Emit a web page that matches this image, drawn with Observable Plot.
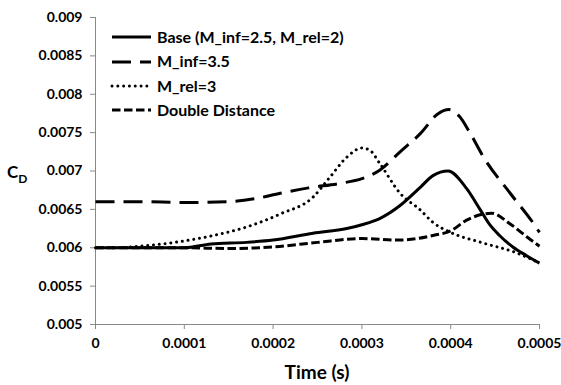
<!DOCTYPE html>
<html><head><meta charset="utf-8">
<script src="https://cdn.jsdelivr.net/npm/d3@7"></script>
<script src="https://cdn.jsdelivr.net/npm/@observablehq/plot@0.6"></script>
<style>
body{margin:0;background:#fff;}
#wrap{position:relative;width:561px;height:385px;font-family:Lato,"Open Sans",sans-serif;font-weight:bold;color:#000;}
.lbl{position:absolute;white-space:nowrap;line-height:1;}
</style></head><body><div id="wrap"></div>
<script>
// ---- data ----
const xTicks = [0, 0.0001, 0.0002, 0.0003, 0.0004, 0.0005];
const xTickLabels = ["0", "0.0001", "0.0002", "0.0003", "0.0004", "0.0005"];
const yTicks = [0.005, 0.0055, 0.006, 0.0065, 0.007, 0.0075, 0.008, 0.0085, 0.009];
const yTickLabels = ["0.005", "0.0055", "0.006", "0.0065", "0.007", "0.0075", "0.008", "0.0085", "0.009"];
const seriesNames = ["Base (M_inf=2.5, M_rel=2)", "M_inf=3.5", "M_rel=3", "Double Distance"];

const baseT = [0, 0.00005, 0.0001, 0.00013, 0.00017, 0.0002, 0.000245, 0.000283, 0.0003, 0.00032, 0.000343, 0.000366, 0.00038, 0.000397, 0.000418, 0.000433, 0.000444, 0.000455, 0.00047, 0.000485, 0.0005];
const baseV = [0.006, 0.006, 0.006, 0.00605, 0.00607, 0.0061, 0.00619, 0.00625, 0.0063, 0.00638, 0.00655, 0.00679, 0.00694, 0.0070, 0.00677, 0.0065, 0.0063, 0.00616, 0.00601, 0.0059, 0.0058];

const minfT = [0, 0.00005, 0.0001, 0.00015, 0.00018, 0.000208, 0.00024, 0.000276, 0.0003, 0.00032, 0.000343, 0.000366, 0.000385, 0.000398, 0.00041, 0.000422, 0.000437, 0.000467, 0.000493, 0.0005];
const minfV = [0.0066, 0.0066, 0.00659, 0.0066, 0.00664, 0.00671, 0.00678, 0.00684, 0.0069, 0.00701, 0.00725, 0.00749, 0.00774, 0.0078, 0.00771, 0.00749, 0.00718, 0.00671, 0.00632, 0.0062];

const mrelT = [0, 0.00002, 0.00006, 0.000095, 0.000133, 0.00017, 0.000208, 0.000245, 0.000264, 0.000283, 0.0003, 0.000309, 0.00032, 0.000343, 0.000366, 0.00038, 0.0004, 0.000437, 0.000475, 0.0005];
const mrelV = [0.006, 0.006, 0.00603, 0.00608, 0.00616, 0.00627, 0.00644, 0.00666, 0.00692, 0.00718, 0.0073, 0.00727, 0.0071, 0.00671, 0.00649, 0.00633, 0.0062, 0.00606, 0.00593, 0.0058];

const ddT = [0, 0.0001, 0.00015, 0.0002, 0.00025, 0.0003, 0.000343, 0.00038, 0.0004, 0.000418, 0.000446, 0.000467, 0.000486, 0.0005];
const ddV = [0.006, 0.006, 0.00599, 0.00601, 0.00607, 0.00612, 0.0061, 0.00616, 0.00622, 0.00636, 0.00645, 0.00631, 0.00614, 0.00602];

// ---- build table ----
const rows = (name, T, V) => T.map((t, i) => ({series: name, t, v: V[i]}));
const data = [
  rows(seriesNames[0], baseT, baseV),
  rows(seriesNames[1], minfT, minfV),
  rows(seriesNames[2], mrelT, mrelV),
  rows(seriesNames[3], ddT, ddV)
];
const styles = [
  {strokeWidth: 3, strokeDasharray: null, strokeLinecap: "butt"},
  {strokeWidth: 3, strokeDasharray: "19,9", strokeLinecap: "butt"},
  {strokeWidth: 3, strokeDasharray: "0.01,5.8", strokeLinecap: "round"},
  {strokeWidth: 3, strokeDasharray: "8.5,3.5", strokeLinecap: "butt"}
];

const axisGray = "#898989";
const chart = Plot.plot({
  width: 561, height: 385,
  marginLeft: 95, marginRight: 22, marginTop: 17, marginBottom: 61,
  style: {fontFamily: "Lato, 'Open Sans', sans-serif", fontSize: "14px", fontWeight: "bold", background: "#fff", color: "#000"},
  x: {domain: [0, 0.0005]},
  y: {domain: [0.005, 0.009]},
  marks: [
    Plot.axisX({ticks: xTicks, tickFormat: d => xTickLabels[xTicks.indexOf(d)], tickSize: 5, tickPadding: 9, stroke: axisGray, fill: "#000", label: null}),
    Plot.axisY({ticks: yTicks, tickFormat: d => yTickLabels[yTicks.indexOf(d)], tickSize: 5, tickPadding: 8, stroke: axisGray, fill: "#000", label: null}),
    Plot.ruleX([0], {stroke: axisGray, strokeWidth: 1}),
    Plot.ruleY([0.005], {stroke: axisGray, strokeWidth: 1}),
    ...data.map((d, i) => Plot.line(d, {x: "t", y: "v", stroke: "#000", curve: "monotone-x", ...styles[i]}))
  ]
});
const wrap = document.getElementById("wrap");
chart.style.position = "absolute"; chart.style.left = "0"; chart.style.top = "0";
wrap.appendChild(chart);

// ---- legend ----
const legendRowsY = [37, 61.5, 86, 110];
seriesNames.forEach((name, i) => {
  const s = styles[i];
  const svgNS = "http://www.w3.org/2000/svg";
  const sv = document.createElementNS(svgNS, "svg");
  sv.setAttribute("width", 44); sv.setAttribute("height", 10);
  sv.style.position = "absolute"; sv.style.left = "110px"; sv.style.top = (legendRowsY[i] - 5) + "px";
  const ln = document.createElementNS(svgNS, "line");
  ln.setAttribute("x1", 2); ln.setAttribute("x2", 41); ln.setAttribute("y1", 5); ln.setAttribute("y2", 5);
  ln.setAttribute("stroke", "#000"); ln.setAttribute("stroke-width", s.strokeWidth);
  if (s.strokeDasharray) ln.setAttribute("stroke-dasharray", s.strokeDasharray);
  ln.setAttribute("stroke-linecap", s.strokeLinecap);
  sv.appendChild(ln); wrap.appendChild(sv);
  const t = document.createElement("div");
  t.className = "lbl"; t.textContent = name;
  t.style.left = "157px"; t.style.top = (legendRowsY[i] - 8.5) + "px"; t.style.fontSize = "16px";
  wrap.appendChild(t);
});

// ---- axis titles ----
const xt = document.createElement("div");
xt.className = "lbl"; xt.textContent = "Time (s)";
xt.style.fontSize = "19px"; xt.style.left = "317px"; xt.style.top = "362px"; xt.style.transform = "translateX(-50%)";
wrap.appendChild(xt);
const yt = document.createElement("div");
yt.className = "lbl";
yt.innerHTML = 'C<span style="font-size:12px;position:relative;top:5px;">D</span>';
yt.style.fontSize = "17px"; yt.style.left = "7px"; yt.style.top = "163px";
wrap.appendChild(yt);
</script></body></html>
